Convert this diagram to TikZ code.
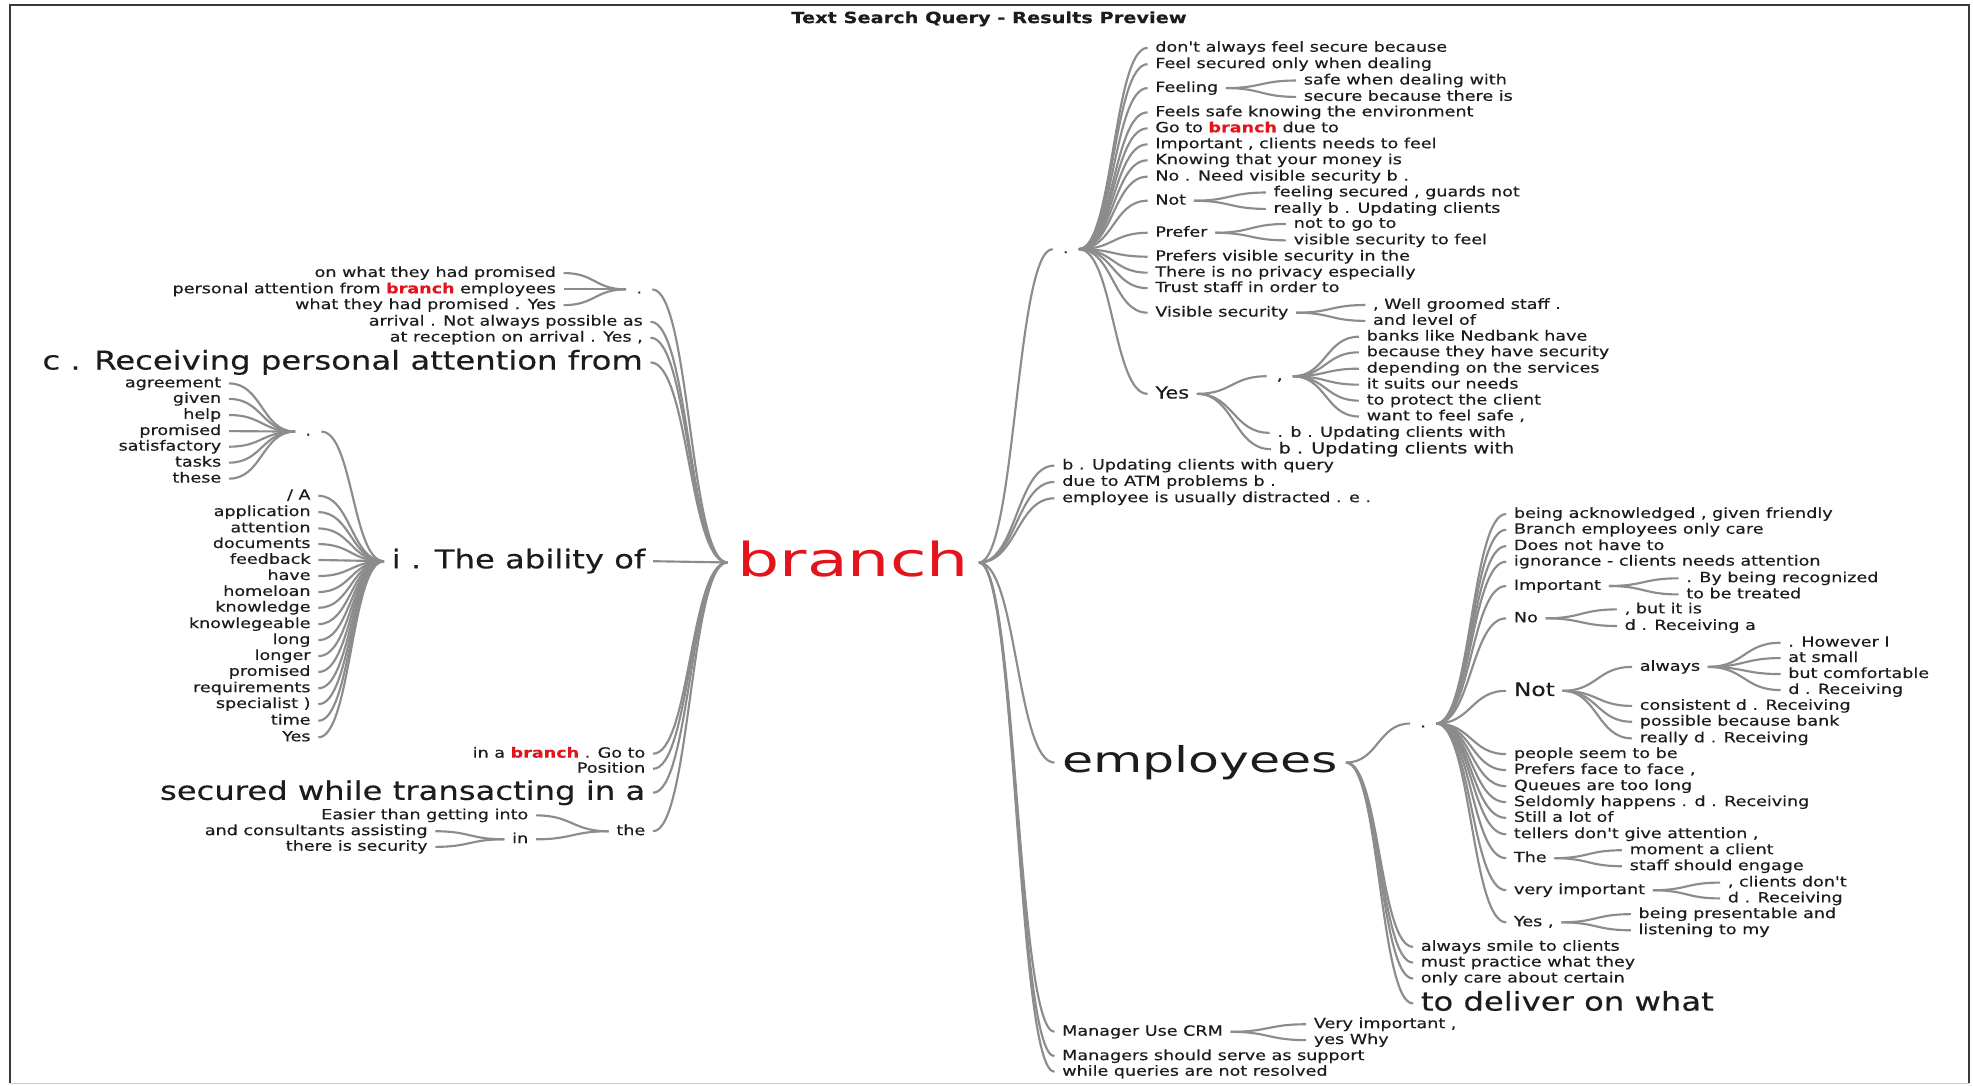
\documentclass[tikz,border=0pt]{standalone}
\usepackage{fontspec}
\usetikzlibrary{calc}
\newfontfamily\tf[FakeStretch=1.25, FakeBold=0.35]{DejaVu Sans}
\newfontfamily\tfw[FakeStretch=1.42]{DejaVu Sans}
\definecolor{txt}{HTML}{1C1C1C}
\definecolor{wire}{HTML}{8C8C8C}
\definecolor{hit}{HTML}{E3141B}
\definecolor{framec}{HTML}{3A3A3A}
\newcommand\hl{\textcolor{hit}{\bfseries branch}}
% curved connector, parent on the left, child on the right
\newcommand\rlink[2]{\draw[link] let \p1=(#1.east), \p2=(#2.west), \n1={0.5*(\x2-\x1)} in (\p1) .. controls +(\n1,0) and +(-\n1,0) .. (\p2);}
% curved connector, parent on the right, child on the left
\newcommand\llink[2]{\draw[link] let \p1=(#1.west), \p2=(#2.east), \n1={0.5*(\x1-\x2)} in (\p1) .. controls +(-\n1,0) and +(\n1,0) .. (\p2);}
\tikzset{
  link/.style={draw=wire, line width=1.7pt},
  tw/.style={inner xsep=6pt, inner ysep=0pt, text=txt, font=\tf\fontsize{11.16}{13}\selectfont, text height=6.2pt, text depth=0pt},
  tr/.style={tw, anchor=west, xshift=-6pt},
  tl/.style={tw, anchor=east, xshift=6pt},
  tdot/.style={tw, anchor=center, inner xsep=8pt},
  fyes/.style={font=\tf\fontsize{13.3}{15}\selectfont, text height=7.4pt},
  fms/.style={font=\tf\fontsize{12.2}{14}\selectfont, text height=6.8pt},
  fnot/.style={font=\tf\fontsize{14.8}{17}\selectfont, text height=8.2pt},
  fbig/.style={font=\tf\fontsize{20.5}{24}\selectfont, text height=11.3pt},
  femp/.style={font=\tfw\fontsize{28.3}{32}\selectfont, text height=15.5pt},
  fbranch/.style={font=\tfw\fontsize{37.2}{40}\selectfont, text=hit, text height=22pt, inner xsep=8pt},
}
\begin{document}
\begin{tikzpicture}[x=1pt,y=-1pt]
\useasboundingbox (0,0) rectangle (1568,863);
\fill[white] (0,0) rectangle (1568,863);
% frame
\draw[framec, line width=1.6pt] (8,861) -- (8,4) -- (1565,4) -- (1565,861);
\draw[gray!40, line width=0.8pt] (8,861) -- (1565,861);
\node[font=\tf\bfseries\fontsize{12.3}{14}\selectfont, text=txt] (title) at (786,15) {Text Search Query - Results Preview};

% root
\node[tw, fbranch, anchor=center] (br) at (678,447) {branch};

% ---------- right side ----------
\node[tdot] (dT) at (847,198) {.};
\node[tr] (r1) at (844,370) {b . Updating clients with query};
\node[tr] (r2) at (844,383) {due to ATM problems b .};
\node[tr] (r3) at (844,396) {employee is usually distracted . e .};
\node[tr, femp] (emp) at (844,606) {employees};
\node[tr] (r6) at (844,820) {Manager Use CRM};
\node[tr] (r7) at (844,839.4) {Managers should serve as support};
\node[tr] (r8) at (844,851.8) {while queries are not resolved};

\node[tr] (t1) at (918,38) {don't always feel secure because};
\node[tr] (t2) at (918,51) {Feel secured only when dealing};
\node[tr] (t3) at (918,70) {Feeling};
\node[tr] (t3a) at (1036,64) {safe when dealing with};
\node[tr] (t3b) at (1036,77) {secure because there is};
\node[tr] (t4) at (918,89.3) {Feels safe knowing the environment};
\node[tr] (t5) at (918,102) {Go to \hl{} due to};
\node[tr] (t6) at (918,114.7) {Important , clients needs to feel};
\node[tr] (t7) at (918,127.4) {Knowing that your money is};
\node[tr] (t8) at (918,140.4) {No . Need visible security b .};
\node[tr] (t9) at (918,159.5) {Not};
\node[tr] (t9a) at (1012,153) {feeling secured , guards not};
\node[tr] (t9b) at (1012,166) {really b . Updating clients};
\node[tr] (t10) at (918,185) {Prefer};
\node[tr] (t10a) at (1028,178) {not to go to};
\node[tr] (t10b) at (1028,191) {visible security to feel};
\node[tr] (t11) at (918,204) {Prefers visible security in the};
\node[tr] (t12) at (918,216.7) {There is no privacy especially};
\node[tr] (t13) at (918,229) {Trust staff in order to};
\node[tr] (t14) at (918,248.5) {Visible security};
\node[tr] (t14a) at (1091,242.4) {, Well groomed staff .};
\node[tr] (t14b) at (1091,255) {and level of};
\node[tr, fyes] (t15) at (918,313) {Yes};
\node[tdot] (t15c) at (1017,299) {,};
\node[tr] (c1) at (1086,267.6) {banks like Nedbank have};
\node[tr] (c2) at (1086,280) {because they have security};
\node[tr] (c3) at (1086,293) {depending on the services};
\node[tr] (c4) at (1086,305.7) {it suits our needs};
\node[tr] (c5) at (1086,318.4) {to protect the client};
\node[tr] (c6) at (1086,331) {want to feel safe ,};
\node[tr] (t15d) at (1015,344) {. b . Updating clients with};
\node[tr, fms] (t15e) at (1016,357) {b . Updating clients with};

\node[tdot] (dE) at (1131,575) {.};
\node[tr] (e1) at (1203,408.5) {being acknowledged , given friendly};
\node[tr] (e2) at (1203,421) {Branch employees only care};
\node[tr] (e3) at (1203,434) {Does not have to};
\node[tr] (e4) at (1203,446.4) {ignorance - clients needs attention};
\node[tr] (e5) at (1203,465.7) {Important};
\node[tr] (e5a) at (1340,459.6) {. By being recognized};
\node[tr] (e5b) at (1340,472.4) {to be treated};
\node[tr] (e6) at (1203,491.4) {No};
\node[tr] (e6a) at (1291,484.3) {, but it is};
\node[tr] (e6b) at (1291,497.5) {d . Receiving a};
\node[tr, fnot] (e7) at (1203,549) {Not};
\node[tr] (e7a) at (1303,530) {always};
\node[tr] (e7a1) at (1421,510.8) {. However I};
\node[tr] (e7a2) at (1421,523) {at small};
\node[tr] (e7a3) at (1421,535.7) {but comfortable};
\node[tr] (e7a4) at (1421,548.4) {d . Receiving};
\node[tr] (e7b) at (1303,561) {consistent d . Receiving};
\node[tr] (e7c) at (1303,573.6) {possible because bank};
\node[tr] (e7d) at (1303,586.8) {really d . Receiving};
\node[tr] (e8) at (1203,599.3) {people seem to be};
\node[tr] (e9) at (1203,612) {Prefers face to face ,};
\node[tr] (e10) at (1203,624.8) {Queues are too long};
\node[tr] (e11) at (1203,637.5) {Seldomly happens . d . Receiving};
\node[tr] (e12) at (1203,650) {Still a lot of};
\node[tr] (e13) at (1203,663) {tellers don't give attention ,};
\node[tr] (e14) at (1203,682) {The};
\node[tr] (e14a) at (1295,675.7) {moment a client};
\node[tr] (e14b) at (1295,688.4) {staff should engage};
\node[tr] (e15) at (1203,707.5) {very important};
\node[tr] (e15a) at (1373,701.4) {, clients don't};
\node[tr] (e15b) at (1373,714) {d . Receiving};
\node[tr] (e16) at (1203,733) {Yes ,};
\node[tr] (e16a) at (1302,726.5) {being presentable and};
\node[tr] (e16b) at (1302,739.3) {listening to my};
\node[tr] (f1) at (1129,752.5) {always smile to clients};
\node[tr] (f2) at (1129,765) {must practice what they};
\node[tr] (f3) at (1129,777.7) {only care about certain};
\node[tr, fbig] (f4) at (1129,797.5) {to deliver on what};
\node[tr] (m1) at (1044,814) {Very important ,};
\node[tr] (m2) at (1044,826.6) {yes Why};

% ---------- left side ----------
\node[tdot] (dL1) at (508,230) {.};
\node[tl] (a1) at (442,217) {on what they had promised};
\node[tl] (a2) at (442,230) {personal attention from \hl{} employees};
\node[tl] (a3) at (442,242.5) {what they had promised . Yes};
\node[tl] (l2) at (511,255.7) {arrival . Not always possible as};
\node[tl] (l3) at (511,268.4) {at reception on arrival . Yes ,};
\node[tl, fbig] (l4) at (511,288) {c . Receiving personal attention from};
\node[tl, fbig] (l5) at (513,446) {i . The ability of};
\node[tdot] (dL2) at (245,343) {.};
\node[tl] (b1) at (176,304.7) {agreement};
\node[tl] (b2) at (176,317) {given};
\node[tl] (b3) at (176,329.8) {help};
\node[tl] (b4) at (176,342.6) {promised};
\node[tl] (b5) at (176,355) {satisfactory};
\node[tl] (b6) at (176,367.7) {tasks};
\node[tl] (b7) at (176,380.4) {these};
\node[tl] (g1) at (247,394) {/ A};
\node[tl] (g2) at (247,407) {application};
\node[tl] (g3) at (247,420) {attention};
\node[tl] (g4) at (247,432.4) {documents};
\node[tl] (g5) at (247,445) {feedback};
\node[tl] (g6) at (247,457.8) {have};
\node[tl] (g7) at (247,470.5) {homeloan};
\node[tl] (g8) at (247,483) {knowledge};
\node[tl] (g9) at (247,496) {knowlegeable};
\node[tl] (g10) at (247,508.7) {long};
\node[tl] (g11) at (247,521.4) {longer};
\node[tl] (g12) at (247,534) {promised};
\node[tl] (g13) at (247,547) {requirements};
\node[tl] (g14) at (247,559.6) {specialist )};
\node[tl] (g15) at (247,572.8) {time};
\node[tl] (g16) at (247,586) {Yes};
\node[tl] (l6) at (513,599) {in a \hl{} . Go to};
\node[tl] (l7) at (513,611) {Position};
\node[tl, fbig] (l8) at (513,630) {secured while transacting in a};
\node[tl] (l9) at (513,660.6) {the};
\node[tl] (k1) at (420,648) {Easier than getting into};
\node[tl] (k2) at (420,667) {in};
\node[tl] (k2a) at (340,660.6) {and consultants assisting};
\node[tl] (k2b) at (340,673) {there is security};

% ---------- connectors ----------
\foreach \c in {dT,r1,r2,r3,emp,r6,r7,r8} {\rlink{br}{\c}}
\foreach \c in {t1,t2,t3,t4,t5,t6,t7,t8,t9,t10,t11,t12,t13,t14,t15} {\rlink{dT}{\c}}
\foreach \c in {t3a,t3b} {\rlink{t3}{\c}}
\foreach \c in {t9a,t9b} {\rlink{t9}{\c}}
\foreach \c in {t10a,t10b} {\rlink{t10}{\c}}
\foreach \c in {t14a,t14b} {\rlink{t14}{\c}}
\foreach \c in {t15c,t15d,t15e} {\rlink{t15}{\c}}
\foreach \c in {c1,c2,c3,c4,c5,c6} {\rlink{t15c}{\c}}
\foreach \c in {dE,f1,f2,f3,f4} {\rlink{emp}{\c}}
\foreach \c in {e1,e2,e3,e4,e5,e6,e7,e8,e9,e10,e11,e12,e13,e14,e15,e16} {\rlink{dE}{\c}}
\foreach \c in {e5a,e5b} {\rlink{e5}{\c}}
\foreach \c in {e6a,e6b} {\rlink{e6}{\c}}
\foreach \c in {e7a,e7b,e7c,e7d} {\rlink{e7}{\c}}
\foreach \c in {e7a1,e7a2,e7a3,e7a4} {\rlink{e7a}{\c}}
\foreach \c in {e14a,e14b} {\rlink{e14}{\c}}
\foreach \c in {e15a,e15b} {\rlink{e15}{\c}}
\foreach \c in {e16a,e16b} {\rlink{e16}{\c}}
\foreach \c in {m1,m2} {\rlink{r6}{\c}}

\foreach \c in {dL1,l2,l3,l4,l5,l6,l7,l8,l9} {\llink{br}{\c}}
\foreach \c in {a1,a2,a3} {\llink{dL1}{\c}}
\foreach \c in {dL2,g1,g2,g3,g4,g5,g6,g7,g8,g9,g10,g11,g12,g13,g14,g15,g16} {\llink{l5}{\c}}
\foreach \c in {b1,b2,b3,b4,b5,b6,b7} {\llink{dL2}{\c}}
\foreach \c in {k1,k2} {\llink{l9}{\c}}
\foreach \c in {k2a,k2b} {\llink{k2}{\c}}
\end{tikzpicture}
\end{document}
